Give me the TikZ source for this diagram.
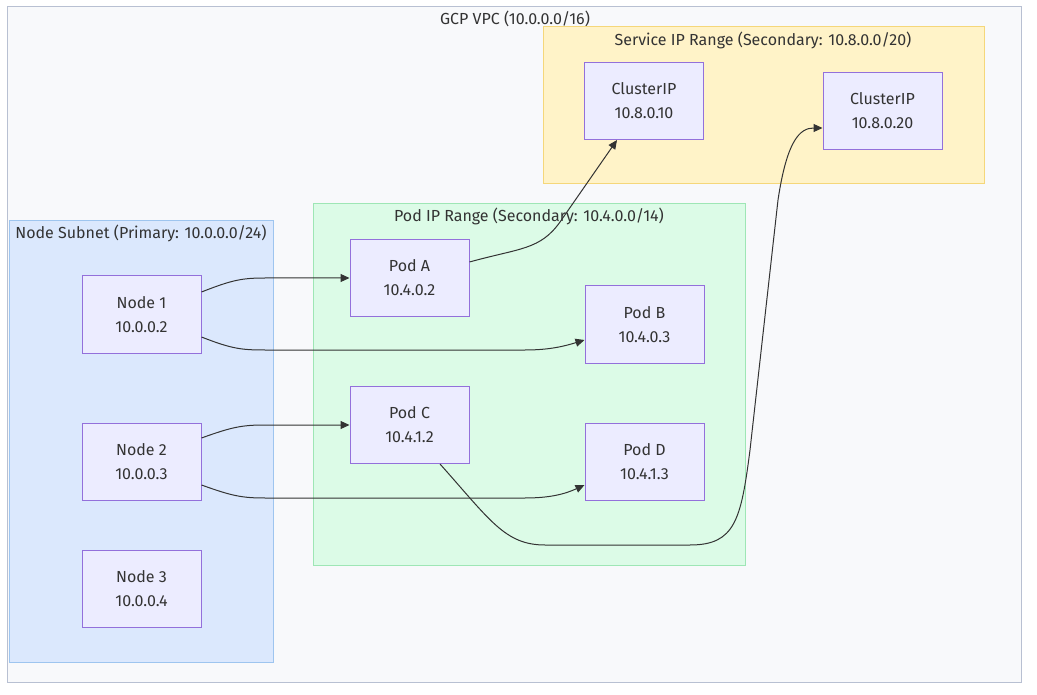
\documentclass[tikz,border=0pt]{standalone}
\usepackage{fontspec}
\setmainfont{Fira Sans}
\usetikzlibrary{arrows.meta,calc}
\definecolor{vpcfill}{HTML}{F8F9FB}
\definecolor{vpcdraw}{HTML}{B8C0D2}
\definecolor{svcfill}{HTML}{FFF3C8}
\definecolor{svcdraw}{HTML}{F5D77A}
\definecolor{subfill}{HTML}{DBE8FD}
\definecolor{subdraw}{HTML}{9EC5EF}
\definecolor{podfill}{HTML}{DCFBE7}
\definecolor{poddraw}{HTML}{9EE6B5}
\definecolor{nfill}{HTML}{ECECFF}
\definecolor{ndraw}{HTML}{9370DB}
\definecolor{txt}{HTML}{333333}
\tikzset{
  box/.style={draw=ndraw, fill=nfill, line width=1pt, minimum width=119pt, minimum height=77pt, align=center, text=txt, font=\fontsize{16pt}{24pt}\selectfont, inner sep=0pt},
  grp/.style={line width=1pt},
  title/.style={text=txt, font=\fontsize{16pt}{19pt}\selectfont, inner sep=0pt},
  link/.style={draw=txt, line width=1pt, -{Triangle[length=9pt,width=8pt]}}
}
\begin{document}
\begin{tikzpicture}[x=1pt,y=-1pt]
\useasboundingbox (0,0) rectangle (1037,695);
\fill[white] (0,0) rectangle (1037,695);
% groups
\draw[grp, draw=vpcdraw, fill=vpcfill] (7,7) rectangle (1021,682);
\node[title] (tvpc) at (515,19) {GCP VPC (10.0.0.0/16)};
\draw[grp, draw=svcdraw, fill=svcfill] (543,27) rectangle (984,184);
\node[title] (tsvc) at (763,40) {Service IP Range (Secondary: 10.8.0.0/20)};
\draw[grp, draw=subdraw, fill=subfill] (9,221) rectangle (273,662);
\node[title] (tsub) at (141,233) {Node Subnet (Primary: 10.0.0.0/24)};
\draw[grp, draw=poddraw, fill=podfill] (313,204) rectangle (745,565);
\node[title] (tpod) at (529,216) {Pod IP Range (Secondary: 10.4.0.0/14)};
% nodes
\node[box] (c1) at (644,101) {ClusterIP\\10.8.0.10};
\node[box] (c2) at (882.5,111) {ClusterIP\\10.8.0.20};
\node[box] (pA) at (409.5,278) {Pod A\\10.4.0.2};
\node[box] (pB) at (644.5,324.5) {Pod B\\10.4.0.3};
\node[box] (pC) at (409.5,425) {Pod C\\10.4.1.2};
\node[box] (pD) at (644.5,461.5) {Pod D\\10.4.1.3};
\node[box] (n1) at (141.5,314.5) {Node 1\\10.0.0.2};
\node[box] (n2) at (141.5,461.5) {Node 2\\10.0.0.3};
\node[box] (n3) at (141.5,588.5) {Node 3\\10.0.0.4};
% links
\draw[link] ($(n1.east)+(0,-22.5)$) .. controls (232,280) and (242,278) .. (265,278) -- (pA.west);
\draw[link] ($(n1.east)+(0,22.5)$) .. controls (232,349) and (242,350) .. (265,350) -- (525,350) .. controls (550,350) and (565,346) .. ($(pB.west)+(0,15.5)$);
\draw[link] ($(n2.east)+(0,-23.5)$) .. controls (232,427) and (242,425) .. (265,425) -- (pC.west);
\draw[link] ($(n2.east)+(0,23.5)$) .. controls (232,496) and (242,498) .. (265,498) -- (525,498) .. controls (550,498) and (565,494) .. ($(pD.west)+(0,23.5)$);
\draw[link] ($(pA.east)+(0,-16)$) .. controls (520,248) and (540,250) .. (560,222) -- ($(c1.south)+(-27,0)$);
\draw[link] ($(pC.south)+(30.5,0)$) .. controls (490,520) and (505,545) .. (545,545) -- (690,545) .. controls (735,545) and (741,520) .. (750,450) -- (778,200) .. controls (787,140) and (800,128) .. ($(c2.west)+(0,17)$);
\end{tikzpicture}
\end{document}
